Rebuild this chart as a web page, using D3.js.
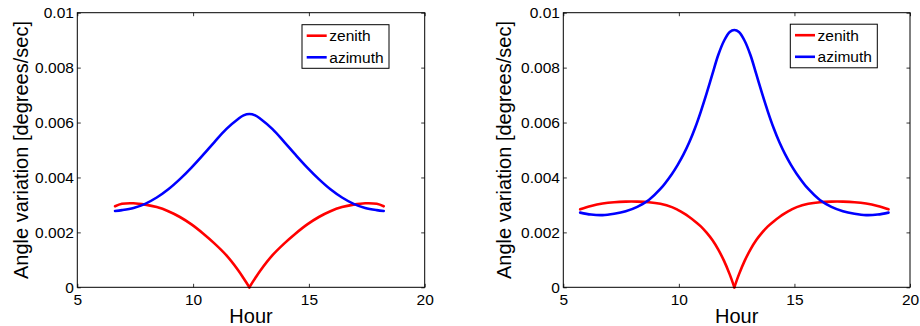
<!DOCTYPE html>
<html>
<head>
<meta charset="utf-8">
<script src="https://cdn.jsdelivr.net/npm/d3@7"></script>
<style>
  html, body { margin: 0; padding: 0; background: #fff; }
  svg { display: block; }
  text { font-family: "Liberation Sans", Arial, sans-serif; fill: #000; }
</style>
</head>
<body>
<svg id="chart" width="920" height="326"></svg>
<script>
// ---------- data ----------
const xTicks = [5, 10, 15, 20];
const xTickLabels = ["5", "10", "15", "20"];
const yTicks = [0, 0.002, 0.004, 0.006, 0.008, 0.01];
const yTickLabels = ["0", "0.002", "0.004", "0.006", "0.008", "0.01"];
const seriesNames = ["zenith", "azimuth"];
const seriesColors = ["#ff0000", "#0000ff"];

// left panel
const hoursL = [6.63, 6.93, 7.43, 7.93, 8.43, 8.93, 9.43, 9.93, 10.43, 10.93, 11.43, 11.93, 12.18,
  12.43, 12.68, 12.93, 13.43, 13.93, 14.43, 14.93, 15.43, 15.93, 16.43, 16.93, 17.43, 17.93, 18.23];
const zenithL = [0.00295, 0.00304, 0.00306, 0.00301, 0.00292, 0.00277, 0.00256, 0.00229, 0.00196, 0.00159, 0.00117, 0.00064, 0.00033,
  0, 0.00033, 0.00064, 0.00117, 0.00159, 0.00196, 0.00229, 0.00256, 0.00277, 0.00292, 0.00301, 0.00306, 0.00304, 0.00295];
const azimuthL = [0.00278, 0.00281, 0.00289, 0.00304, 0.00327, 0.00357, 0.00394, 0.00436, 0.00482, 0.00530, 0.00576, 0.00612, 0.00626,
  0.00631, 0.00626, 0.00612, 0.00576, 0.00530, 0.00482, 0.00436, 0.00394, 0.00357, 0.00327, 0.00304, 0.00289, 0.00281, 0.00278];

// right panel
const hoursR = [5.73, 6.2, 6.7, 7.2, 7.7, 8.2, 8.7, 9.2, 9.7, 9.95, 10.2, 10.45, 10.7, 10.95, 11.2, 11.45, 11.7, 11.95, 12.2,
  12.4, 12.6, 12.85, 13.1, 13.35, 13.6, 13.85, 14.1, 14.35, 14.6, 14.85, 15.1, 15.6, 16.1, 16.6, 17.1, 17.6, 18.1, 18.6, 19.07];
const zenithR = [0.00284, 0.00296, 0.00305, 0.00310, 0.00312, 0.00312, 0.00310, 0.00304, 0.00292, 0.00282, 0.00270, 0.00256, 0.00240, 0.00222, 0.00199, 0.00172, 0.00138, 0.00097, 0.00047,
  0, 0.00047, 0.00097, 0.00138, 0.00172, 0.00199, 0.00222, 0.00240, 0.00256, 0.00270, 0.00282, 0.00292, 0.00304, 0.00310, 0.00312, 0.00312, 0.00310, 0.00305, 0.00296, 0.00284];
const azimuthR = [0.00272, 0.00265, 0.00263, 0.00268, 0.00277, 0.00293, 0.00318, 0.00358, 0.00413, 0.00446, 0.00484, 0.00528, 0.00580, 0.00640, 0.00706, 0.00776, 0.00845, 0.00897, 0.00930,
  0.00937, 0.00930, 0.00897, 0.00845, 0.00776, 0.00706, 0.00640, 0.00580, 0.00528, 0.00484, 0.00446, 0.00413, 0.00358, 0.00318, 0.00293, 0.00277, 0.00268, 0.00263, 0.00265, 0.00272];

const xLabel = "Hour";
const yLabel = "Angle variation [degrees/sec]";

// ---------- layout ----------
const panels = [
  { left: 77.3, right: 424.7, hours: hoursL, series: [zenithL, azimuthL], legX: 302, legY: 24.7, ylabX: 28 },
  { left: 563.3, right: 910, hours: hoursR, series: [zenithR, azimuthR], legX: 790.3, legY: 24.2, ylabX: 511 }
];
const plotTop = 12.7, plotBottom = 287.3;
const tickLen = 3.5;

const svg = d3.select("#chart");

panels.forEach(p => {
  const x = d3.scaleLinear().domain([5, 20]).range([p.left, p.right]);
  const y = d3.scaleLinear().domain([0, 0.01]).range([plotBottom, plotTop]);
  const g = svg.append("g");

  // curves
  const line = d3.line()
    .x(d => x(d[0]))
    .y(d => y(d[1]))
    .curve(d3.curveCatmullRom.alpha(0.5));

  p.series.forEach((vals, si) => {
    const pts = p.hours.map((h, i) => [h, vals[i]]);
    let segments = [pts];
    if (si === 0) {
      // split at the cusp (minimum) so the V stays sharp
      const iMin = d3.minIndex(vals);
      segments = [pts.slice(0, iMin + 1), pts.slice(iMin)];
    }
    segments.forEach(seg => {
      g.append("path")
        .datum(seg)
        .attr("fill", "none")
        .attr("stroke", seriesColors[si])
        .attr("stroke-width", 2.6)
        .attr("stroke-linejoin", "round")
        .attr("stroke-linecap", "round")
        .attr("d", line);
    });
  });

  // axes (ticks inward on all four sides)
  const fmtX = (d, i) => xTickLabels[i];
  const fmtY = (d, i) => yTickLabels[i];

  const axB = g.append("g").attr("transform", `translate(0,${plotBottom})`)
    .call(d3.axisBottom(x).tickValues(xTicks).tickFormat(fmtX).tickSizeInner(-tickLen).tickSizeOuter(0).tickPadding(6.2));
  const axT = g.append("g").attr("transform", `translate(0,${plotTop})`)
    .call(d3.axisTop(x).tickValues(xTicks).tickFormat("").tickSizeInner(-tickLen).tickSizeOuter(0));
  const axL = g.append("g").attr("transform", `translate(${p.left},0)`)
    .call(d3.axisLeft(y).tickValues(yTicks).tickFormat(fmtY).tickSizeInner(-tickLen).tickSizeOuter(0).tickPadding(3.4));
  const axR = g.append("g").attr("transform", `translate(${p.right},0)`)
    .call(d3.axisRight(y).tickValues(yTicks).tickFormat("").tickSizeInner(-tickLen).tickSizeOuter(0));

  [axB, axT, axL, axR].forEach(a => {
    a.select(".domain").remove();
    a.selectAll("line").attr("stroke", "#000").attr("stroke-width", 0.8);
    a.selectAll("text").style("font-size", "15.5px").style("font-family", '"Liberation Sans", Arial, sans-serif').attr("fill", "#000");
  });

  // box
  g.append("rect")
    .attr("x", p.left).attr("y", plotTop)
    .attr("width", p.right - p.left).attr("height", plotBottom - plotTop)
    .attr("fill", "none").attr("stroke", "#000").attr("stroke-width", 1);

  // axis labels
  g.append("text")
    .attr("x", (p.left + p.right) / 2).attr("y", 322.6)
    .attr("text-anchor", "middle").style("font-size", "20px")
    .text(xLabel);
  g.append("text")
    .attr("transform", `translate(${p.ylabX},${(plotTop + plotBottom) / 2}) rotate(-90)`)
    .attr("text-anchor", "middle").style("font-size", "20px")
    .text(yLabel);

  // legend
  const lg = g.append("g").attr("transform", `translate(${p.legX},${p.legY})`);
  lg.append("rect").attr("width", 87).attr("height", 43.6)
    .attr("fill", "#fff").attr("stroke", "#000").attr("stroke-width", 1);
  seriesNames.forEach((name, i) => {
    const ly = 11 + i * 21.6;
    lg.append("line").attr("x1", 4.7).attr("x2", 24.7).attr("y1", ly).attr("y2", ly)
      .attr("stroke", seriesColors[i]).attr("stroke-width", 2.6);
    lg.append("text").attr("x", 27.3).attr("y", ly + 5.6)
      .style("font-size", "15.5px").text(name);
  });
});
</script>
</body>
</html>
